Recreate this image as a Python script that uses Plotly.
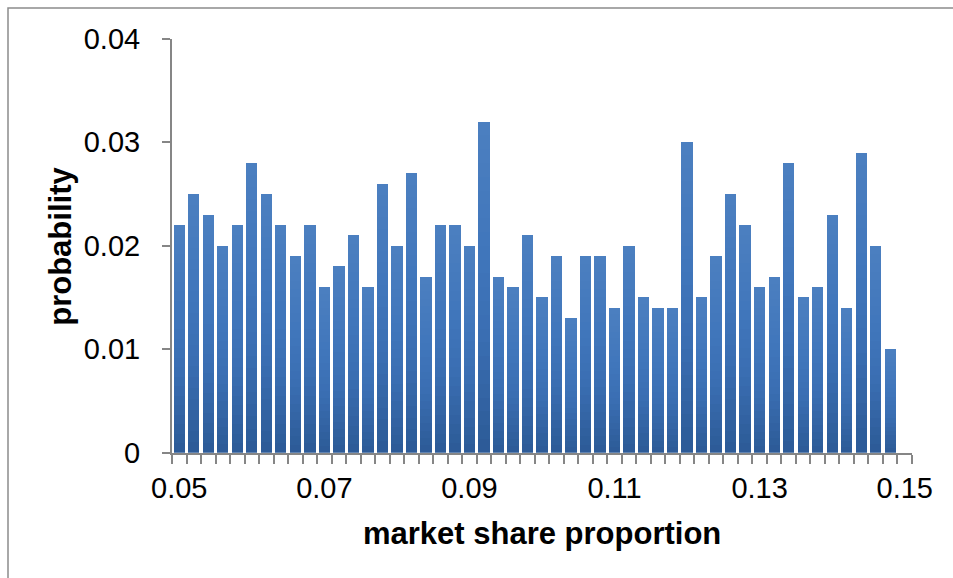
import plotly.graph_objects as go

# Histogram of simulated market share proportion (bins of width 0.002)
bin_starts = [round(0.05 + 0.002 * i, 3) for i in range(51)]
probability = [
    0.022, 0.025, 0.023, 0.020, 0.022, 0.028, 0.025, 0.022, 0.019, 0.022,
    0.016, 0.018, 0.021, 0.016, 0.026, 0.020, 0.027, 0.017, 0.022, 0.022,
    0.020, 0.032, 0.017, 0.016, 0.021, 0.015, 0.019, 0.013, 0.019, 0.019,
    0.014, 0.020, 0.015, 0.014, 0.014, 0.030, 0.015, 0.019, 0.025, 0.022,
    0.016, 0.017, 0.028, 0.015, 0.016, 0.023, 0.014, 0.029, 0.020, 0.010,
    0.0,
]
x_tick_labels = ["0.05", "0.07", "0.09", "0.11", "0.13", "0.15"]
y_tick_values = [0, 0.01, 0.02, 0.03, 0.04]
y_tick_labels = ["0", "0.01", "0.02", "0.03", "0.04"]

categories = [f"{v:.3f}" for v in bin_starts]
label_map = {f"{float(t):.3f}": t for t in x_tick_labels}
tick_text = [label_map.get(c, "") for c in categories]

W, H = 953, 578
FONT = "Liberation Sans, Arial, sans-serif"
AXIS_GREY = "#868686"

# vertical shading stops for each bar (bottom -> top)
stops = [(0.0, (44, 90, 150)), (0.35, (58, 110, 178)), (0.6, (64, 118, 187)), (1.0, (76, 128, 192))]


def shade(t):
    for (t0, c0), (t1, c1) in zip(stops[:-1], stops[1:]):
        if t <= t1:
            f = (t - t0) / (t1 - t0)
            return "rgb(%d,%d,%d)" % tuple(round(a + (b - a) * f) for a, b in zip(c0, c1))
    return "rgb(%d,%d,%d)" % stops[-1][1]


N_BANDS = 24
fig = go.Figure()
for k in range(N_BANDS):
    fig.add_trace(go.Bar(
        x=categories,
        y=[p / N_BANDS for p in probability],
        marker=dict(color=shade((k + 0.5) / N_BANDS), line=dict(width=0)),
        showlegend=False,
        hoverinfo="skip",
    ))

x0, x1 = 172 / W, 912 / W
y0, y1 = (H - 452.7) / H, (H - 38.8) / H

fig.update_layout(
    width=W, height=H, autosize=False,
    margin=dict(l=0, r=0, t=0, b=0, pad=0),
    paper_bgcolor="white", plot_bgcolor="white",
    barmode="stack", bargap=0.22,
    font=dict(family=FONT, size=29, color="black"),
    xaxis=dict(
        domain=[x0, x1], type="category", automargin=False,
        tickmode="array", tickvals=categories, ticktext=tick_text, tickangle=0,
        tickson="boundaries", ticks="outside", ticklen=9, tickwidth=1.5,
        tickcolor=AXIS_GREY, showline=True, linecolor=AXIS_GREY, linewidth=2,
        showgrid=False, zeroline=False, ticklabelstandoff=8,
        tickfont=dict(family=FONT, size=29),
        range=[-0.5, 50.5], fixedrange=True,
    ),
    yaxis=dict(
        domain=[y0, y1], range=[0, 0.04], automargin=False,
        tickmode="array", tickvals=y_tick_values, ticktext=y_tick_labels,
        ticks="outside", ticklen=8, tickwidth=1.5, tickcolor=AXIS_GREY,
        showline=True, linecolor=AXIS_GREY, linewidth=2,
        showgrid=False, zeroline=False, ticklabelstandoff=16,
        tickfont=dict(family=FONT, size=29),
    ),
    annotations=[
        dict(text="<b>market share proportion</b>", x=(x0 + x1) / 2, y=(H - 533) / H,
             xref="paper", yref="paper", showarrow=False,
             font=dict(family=FONT, size=31), xanchor="center", yanchor="middle"),
        dict(text="<b>probability</b>", x=61 / W, y=(y0 + y1) / 2, textangle=-90,
             xref="paper", yref="paper", showarrow=False,
             font=dict(family=FONT, size=31), xanchor="center", yanchor="middle"),
    ],
    shapes=[
        dict(type="rect", xref="paper", yref="paper",
             x0=8 / W, x1=1.05, y0=-0.05, y1=(H - 8) / H,
             line=dict(color="#8c8c8c", width=1.5), fillcolor="rgba(0,0,0,0)",
             layer="below"),
    ],
)

fig.write_html("out.html")
